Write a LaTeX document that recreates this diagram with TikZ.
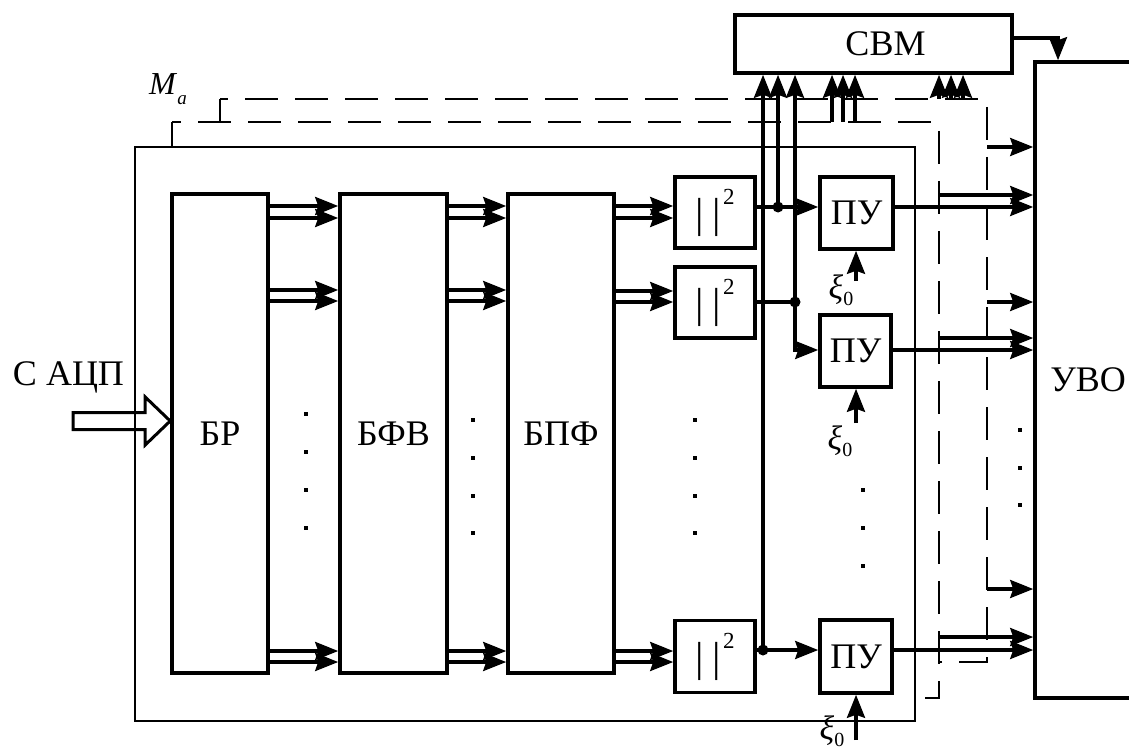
\documentclass[tikz,border=0pt]{standalone}
\usepackage{fontspec}
\setmainfont{Liberation Serif}
\usetikzlibrary{arrows.meta,calc}
\begin{document}
\begin{tikzpicture}[x=1pt,y=-1pt,
  blk/.style={draw, line width=3.6pt, inner sep=0pt, font=\fontsize{36}{40}\selectfont},
  arr/.style={line width=3.3pt, -{Stealth[length=23pt,width=18pt,inset=3pt]}},
  bus/.style={line width=3.3pt},
  frm/.style={line width=1.5pt},
  dsh/.style={line width=1.6pt, dash pattern=on 33pt off 17pt},
  jdot/.style={circle, fill, inner sep=0pt, minimum size=11pt},
  edot/.style={rectangle, fill, inner sep=0pt, minimum size=4.5pt},
  lbl/.style={font=\fontsize{36}{40}\selectfont, inner sep=0pt},
  xil/.style={font=\fontsize{34}{36}\selectfont, inner sep=0pt}]
\useasboundingbox (0,0) rectangle (1129,754);

% frame
\node[draw, frm, minimum width=780pt, minimum height=574pt, inner sep=0pt] (fr) at (525,434) {};

% main blocks
\node[blk, minimum width=96pt, minimum height=479pt] (br) at (220,433.5) {БР};
\node[blk, minimum width=107pt, minimum height=479pt] (bfv) at (393.5,433.5) {БФВ};
\node[blk, minimum width=106pt, minimum height=479pt] (bpf) at (561,433.5) {БПФ};

\newcommand{\sqtxt}{{\fontsize{42}{44}\selectfont|\hspace{9pt}|\hspace{2pt}\raisebox{23pt}{\fontsize{23}{24}\selectfont 2}}}
\node[blk, minimum width=80pt, minimum height=71pt] (sq1) at (715,212.5) {\sqtxt};
\node[blk, minimum width=80pt, minimum height=71pt] (sq2) at (715,302.5) {\sqtxt};
\node[blk, minimum width=80pt, minimum height=72pt] (sq3) at (715,656.5) {\sqtxt};

\node[blk, minimum width=73pt, minimum height=72pt] (pu1) at (856.5,213) {ПУ};
\node[blk, minimum width=71pt, minimum height=72pt] (pu2) at (855.5,351) {ПУ};
\node[blk, minimum width=72pt, minimum height=73pt] (pu3) at (856,656.5) {ПУ};

\node[blk, minimum width=277pt, minimum height=58pt,
      label={[lbl, xshift=12pt]center:СВМ}] (svm) at (873.5,44) {};
\node[blk, minimum width=106pt, minimum height=636pt] (uvo) at (1088,380) {УВО};

% input
\node[lbl] (adc) at (68.5,377) {С АЦП};
\coordinate (tip) at (br.west |- 0,421);
\draw[line width=3pt, line join=miter] (tip) -- ++(-25,-24) -- ++(0,15.5) -- ++(-72,0)
  -- ++(0,17) -- ++(72,0) -- ++(0,15.5) -- cycle;

% arrows between blocks
\foreach \y in {206,218,290,301,651,662} {
  \draw[arr] (br.east |- 0,\y) -- (bfv.west |- 0,\y);
  \draw[arr] (bfv.east |- 0,\y) -- (bpf.west |- 0,\y);
}
\foreach \y in {206,218} \draw[arr] (bpf.east |- 0,\y) -- (sq1.west |- 0,\y);
\foreach \y in {291,302} \draw[arr] (bpf.east |- 0,\y) -- (sq2.west |- 0,\y);
\foreach \y in {651,662} \draw[arr] (bpf.east |- 0,\y) -- (sq3.west |- 0,\y);

% squarer outputs
\coordinate (j1) at (778,207);
\coordinate (j2) at (795,302);
\coordinate (j3) at (763,650);
\draw[arr] (sq1.east |- j1) -- (pu1.west |- j1);
\draw[bus] (sq2.east |- j2) -- (j2);
\draw[arr] (j2) |- (pu2.west |- 0,350);
\draw[arr] (sq3.east |- j3) -- (pu3.west |- j3);
\draw[arr] (j1) -- (svm.south -| j1);
\draw[arr] (j2) -- (svm.south -| j2);
\draw[arr] (j3) -- (svm.south -| j3);
\node[jdot] at (j1) {};
\node[jdot] at (j2) {};
\node[jdot] at (j3) {};

% threshold outputs
\draw[arr] (pu1.east |- j1) -- (uvo.west |- j1);
\draw[arr] (pu2.east |- 0,350) -- (uvo.west |- 0,350);
\draw[arr] (pu3.east |- j3) -- (uvo.west |- j3);

% thresholds xi_0
\coordinate (x1) at (856,281);
\coordinate (x2) at (856,423);
\coordinate (x3) at (856,740);
\draw[arr] (x1) -- (pu1.south -| x1);
\draw[arr] (x2) -- (pu2.south -| x2);
\draw[arr] (x3) -- (pu3.south -| x3);
\newcommand{\xizero}{\textit{ξ}\raisebox{-7pt}{\fontsize{20}{22}\selectfont 0}}
\node[xil] (xl1) at (841,290) {\xizero};
\node[xil] (xl2) at (840,441) {\xizero};
\node[xil] (xl3) at (832,731) {\xizero};

% control buses (dashed)
\node[font=\fontsize{32}{34}\selectfont, inner sep=0pt] (ma) at (168,89)
  {\textit{M}\raisebox{-10pt}{\fontsize{19}{20}\selectfont\textit{a}}};
\coordinate (la) at (172,122);
\coordinate (ua) at (220,99);
\coordinate (lc) at (939,122);
\coordinate (uc) at (987,99);
\draw[frm] (fr.north -| la) -- (la);
\draw[frm] (ua |- la) -- (ua);
\draw[dsh, dash phase=24pt] (la) -- (lc) -- (939,698) -- (925,698);
\draw[dsh, dash phase=25pt] (ua) -- (uc) -- (987,662) -- (939,662);

\foreach \x in {832,843,855} {
  \coordinate (lt) at (\x,122);
  \draw[arr] (lt) -- (svm.south -| lt);
}
\foreach \x in {939,951,963} {
  \coordinate (ut) at (\x,99);
  \draw[arr] (ut) -- (svm.south -| ut);
}
\foreach \y in {147,302,589} {
  \coordinate (ro) at (987,\y);
  \draw[arr] (ro) -- (uvo.west |- ro);
}
\foreach \y in {195,338,637} {
  \coordinate (ri) at (939,\y);
  \draw[arr] (ri) -- (uvo.west |- ri);
}

% computer to output device
\draw[arr] (svm.east |- 0,38) -| (uvo.north -| 1058,0);

% ellipsis dots
\foreach \y in {414,452,490,528} \node[edot] at (306,\y) {};
\foreach \y in {420,458,496,533} {
  \node[edot] at (473,\y) {};
  \node[edot] at (695,\y) {};
}
\foreach \y in {490,528,566} \node[edot] at (863,\y) {};
\foreach \y in {430,468,505} \node[edot] at (1020,\y) {};
\end{tikzpicture}
\end{document}
